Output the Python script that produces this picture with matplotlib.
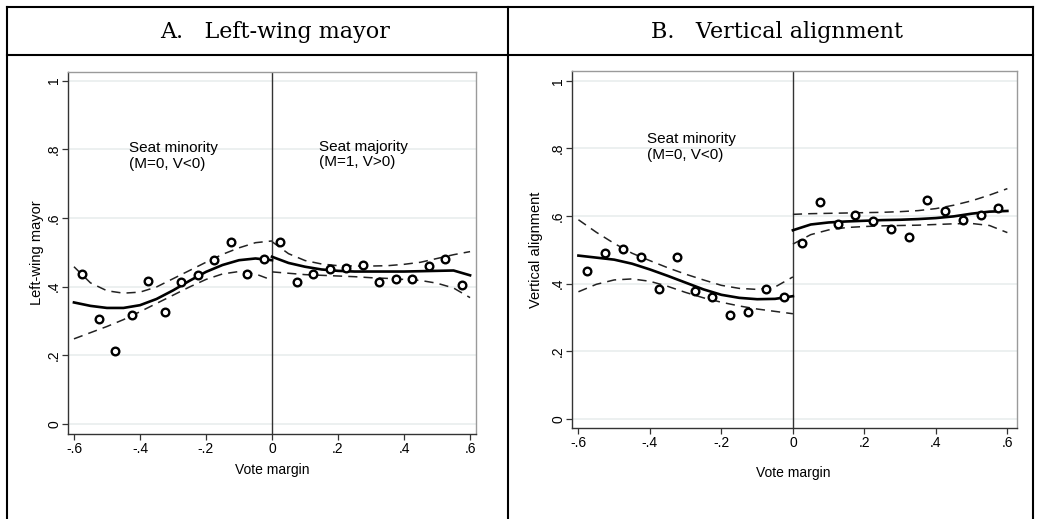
import matplotlib
matplotlib.use('Agg')
import matplotlib.pyplot as plt
from matplotlib.lines import Line2D
import numpy as np

# bin centres of the vote margin (width .05)
bins_left = [-0.575, -0.525, -0.475, -0.425, -0.375, -0.325, -0.275, -0.225, -0.175, -0.125, -0.075, -0.025]
bins_right = [0.025, 0.075, 0.125, 0.175, 0.225, 0.275, 0.325, 0.375, 0.425, 0.475, 0.525, 0.575]

# bin means, left-wing mayor
mayor_left = [0.437, 0.305, 0.212, 0.316, 0.417, 0.327, 0.414, 0.434, 0.477, 0.529, 0.436, 0.481]
mayor_right = [0.529, 0.413, 0.436, 0.451, 0.454, 0.462, 0.413, 0.423, 0.423, 0.459, 0.480, 0.406]

# bin means, vertical alignment
align_left = [0.438, 0.491, 0.503, 0.479, 0.385, 0.480, 0.377, 0.360, 0.307, 0.315, 0.385, 0.361]
align_right = [0.521, 0.643, 0.577, 0.603, 0.586, 0.563, 0.538, 0.647, 0.616, 0.587, 0.602, 0.625]

# fitted polynomial and 95% CI, evaluated every .05
fit_x_left = [-0.60, -0.55, -0.50, -0.45, -0.40, -0.35, -0.30, -0.25, -0.20, -0.15, -0.10, -0.05, 0.0]
fit_x_right = [0.0, 0.05, 0.10, 0.15, 0.20, 0.25, 0.30, 0.35, 0.40, 0.45, 0.50, 0.55, 0.60]

mayor_fit_l = [0.354, 0.344, 0.338, 0.338, 0.346, 0.364, 0.389, 0.417, 0.443, 0.463, 0.477, 0.482, 0.477]
mayor_hi_l = [0.458, 0.411, 0.388, 0.381, 0.384, 0.399, 0.423, 0.447, 0.471, 0.494, 0.513, 0.528, 0.533]
mayor_lo_l = [0.248, 0.266, 0.284, 0.304, 0.327, 0.351, 0.375, 0.399, 0.421, 0.437, 0.444, 0.437, 0.419]
mayor_fit_r = [0.487, 0.469, 0.458, 0.450, 0.446, 0.444, 0.444, 0.444, 0.444, 0.445, 0.446, 0.447, 0.433]
mayor_hi_r = [0.531, 0.496, 0.476, 0.466, 0.461, 0.460, 0.460, 0.461, 0.465, 0.471, 0.482, 0.493, 0.502]
mayor_lo_r = [0.443, 0.439, 0.435, 0.433, 0.431, 0.429, 0.426, 0.424, 0.421, 0.418, 0.410, 0.396, 0.368]

align_fit_l = [0.483, 0.477, 0.471, 0.459, 0.442, 0.423, 0.403, 0.383, 0.367, 0.358, 0.354, 0.355, 0.363]
align_hi_l = [0.589, 0.552, 0.519, 0.490, 0.468, 0.447, 0.428, 0.411, 0.395, 0.386, 0.383, 0.390, 0.420]
align_lo_l = [0.376, 0.398, 0.411, 0.414, 0.407, 0.392, 0.374, 0.358, 0.345, 0.334, 0.325, 0.318, 0.311]
align_fit_r = [0.558, 0.575, 0.581, 0.584, 0.586, 0.588, 0.589, 0.591, 0.594, 0.599, 0.607, 0.613, 0.615]
align_hi_r = [0.605, 0.607, 0.608, 0.609, 0.610, 0.611, 0.613, 0.616, 0.622, 0.632, 0.645, 0.662, 0.681]
align_lo_r = [0.517, 0.545, 0.559, 0.566, 0.569, 0.571, 0.572, 0.573, 0.575, 0.577, 0.578, 0.572, 0.551]

xticks = [-0.6, -0.4, -0.2, 0, 0.2, 0.4, 0.6]
xticklabels = ['-.6', '-.4', '-.2', '0', '.2', '.4', '.6']
yticks = [0, 0.2, 0.4, 0.6, 0.8, 1]
yticklabels = ['0', '.2', '.4', '.6', '.8', '1']

plt.rcParams['font.family'] = ['Liberation Sans', 'DejaVu Sans']

fig = plt.figure(figsize=(10.4, 5.19), dpi=100)
fig.patch.set_facecolor('white')


def rdplot(ax, left, right, fits, ylabel, xlim, ylim):
    ax.set_xlim(*xlim)
    ax.set_ylim(*ylim)
    for y in yticks:
        ax.axhline(y, color='#e9eeee', linewidth=1.2, zorder=0)
    ax.axvline(0, color='#333333', linewidth=1.0, zorder=1)
    fl, hl, ll, fr, hr, lr = fits
    ax.plot(fit_x_left, fl, '-', color='black', linewidth=1.9)
    ax.plot(fit_x_left, hl, '--', color='#222222', linewidth=1.1, dashes=(6, 4))
    ax.plot(fit_x_left, ll, '--', color='#222222', linewidth=1.1, dashes=(6, 4))
    ax.plot(fit_x_right, fr, '-', color='black', linewidth=1.9)
    ax.plot(fit_x_right, hr, '--', color='#222222', linewidth=1.1, dashes=(6, 4))
    ax.plot(fit_x_right, lr, '--', color='#222222', linewidth=1.1, dashes=(6, 4))
    ax.plot(bins_left, left, 'o', markersize=5.5, markerfacecolor='white',
            markeredgecolor='black', markeredgewidth=1.7, zorder=3)
    ax.plot(bins_right, right, 'o', markersize=5.5, markerfacecolor='white',
            markeredgecolor='black', markeredgewidth=1.7, zorder=3)
    ax.set_xticks(xticks)
    ax.set_xticklabels(xticklabels, fontsize=10)
    ax.set_yticks(yticks)
    ax.set_yticklabels(yticklabels, fontsize=10, rotation=90, va='center')
    ax.tick_params(direction='out', length=4, width=0.9, color='#333333', pad=2)
    ax.tick_params(axis='y', pad=1)
    ax.spines['left'].set_color('#333333')
    ax.spines['bottom'].set_color('#333333')
    ax.spines['top'].set_color('#9a9a9a')
    ax.spines['right'].set_color('#9a9a9a')
    for s in ax.spines.values():
        s.set_linewidth(1.0)
    ax.set_xlabel('Vote margin', fontsize=10)
    ax.set_ylabel(ylabel, fontsize=10.5)


ax1 = fig.add_axes([0.0654, 0.1638, 0.3923, 0.6975])
rdplot(ax1, mayor_left, mayor_right,
       (mayor_fit_l, mayor_hi_l, mayor_lo_l, mayor_fit_r, mayor_hi_r, mayor_lo_r),
       'Left-wing mayor', (-0.618, 0.618), (-0.029, 1.025))
ax1.xaxis.set_label_coords(0.5, -0.08)
ax1.yaxis.set_label_coords(-0.059, 0.5)
ax1.text(-0.433, 0.824, 'Seat minority\n(M=0, V<0)', fontsize=11, va='top', ha='left', linespacing=1.15)
ax1.text(0.142, 0.828, 'Seat majority\n(M=1, V>0)', fontsize=11, va='top', ha='left', linespacing=1.15)

ax2 = fig.add_axes([0.55, 0.1753, 0.4279, 0.6879])
rdplot(ax2, align_left, align_right,
       (align_fit_l, align_hi_l, align_lo_l, align_fit_r, align_hi_r, align_lo_r),
       'Vertical alignment', (-0.618, 0.627), (-0.027, 1.029))
ax2.xaxis.set_label_coords(0.497, -0.105)
ax2.yaxis.set_label_coords(-0.065, 0.5)
ax2.text(-0.409, 0.848, 'Seat minority\n(M=0, V<0)', fontsize=11, va='top', ha='left', linespacing=1.15)

# table frame around the two panels
W, H = 1040.0, 519.0
frame = [((7, 7), (7, 519)), ((7, 1033), (7, 7)), ((7, 1033), (55, 55)),
         ((508, 508), (7, 519)), ((1033, 1033), (7, 519))]
for xs, ys in frame:
    fig.add_artist(Line2D([x / W for x in xs], [1 - y / H for y in ys],
                          color='black', linewidth=1.5))

fig.text(275 / W, 1 - 32 / H, 'A.   Left-wing mayor', fontsize=16, family='DejaVu Serif',
         ha='center', va='center')
fig.text(777 / W, 1 - 32 / H, 'B.   Vertical alignment', fontsize=16, family='DejaVu Serif',
         ha='center', va='center')

fig.savefig('out.png', dpi=100, facecolor='white')
